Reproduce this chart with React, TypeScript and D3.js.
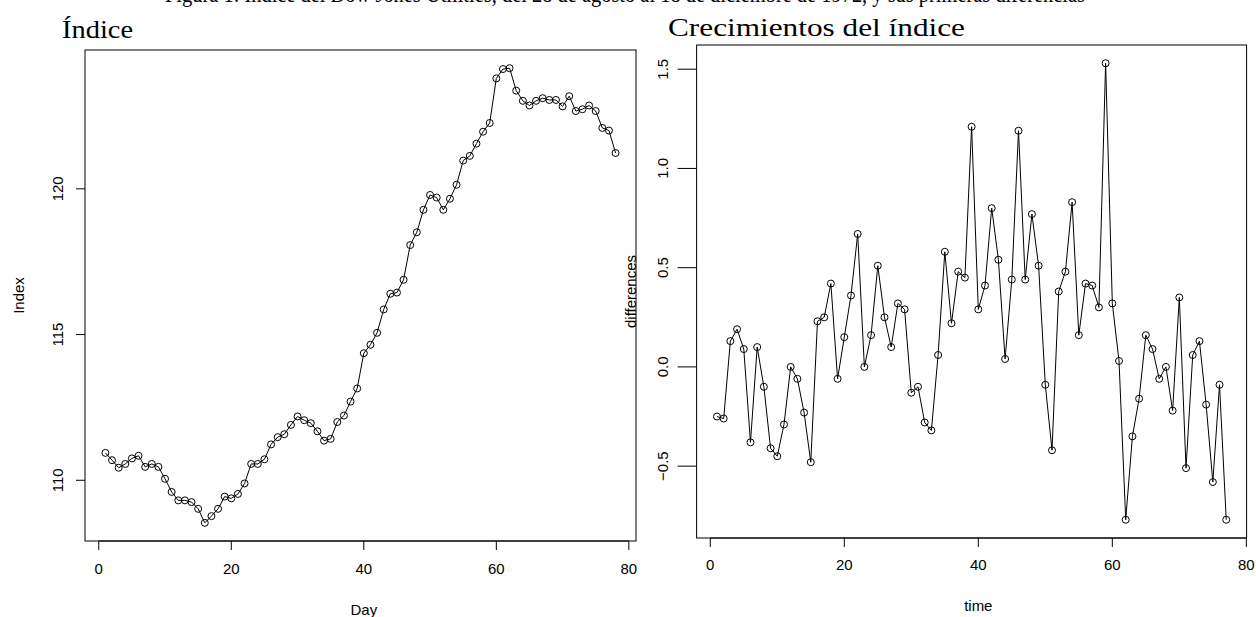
import React from "react";
import * as d3 from "d3";

// Dow Jones Utilities index, 78 trading days
const indexValues: number[] = [
  110.94, 110.69, 110.43, 110.56, 110.75, 110.84, 110.46, 110.56, 110.46, 110.05,
  109.6, 109.31, 109.31, 109.25, 109.02, 108.54, 108.77, 109.02, 109.44, 109.38,
  109.53, 109.89, 110.56, 110.56, 110.72, 111.23, 111.48, 111.58, 111.9, 112.19,
  112.06, 111.96, 111.68, 111.36, 111.42, 112.0, 112.22, 112.7, 113.15, 114.36,
  114.65, 115.06, 115.86, 116.4, 116.44, 116.88, 118.07, 118.51, 119.28, 119.79,
  119.7, 119.28, 119.66, 120.14, 120.97, 121.13, 121.55, 121.96, 122.26, 123.79,
  124.11, 124.14, 123.37, 123.02, 122.86, 123.02, 123.11, 123.05, 123.05, 122.83,
  123.18, 122.67, 122.73, 122.86, 122.67, 122.09, 122.0, 121.23,
];

// Day-to-day growth of the index (first differences)
const differences: number[] = [
  -0.25, -0.26, 0.13, 0.19, 0.09, -0.38, 0.1, -0.1, -0.41, -0.45,
  -0.29, 0.0, -0.06, -0.23, -0.48, 0.23, 0.25, 0.42, -0.06, 0.15,
  0.36, 0.67, 0.0, 0.16, 0.51, 0.25, 0.1, 0.32, 0.29, -0.13,
  -0.1, -0.28, -0.32, 0.06, 0.58, 0.22, 0.48, 0.45, 1.21, 0.29,
  0.41, 0.8, 0.54, 0.04, 0.44, 1.19, 0.44, 0.77, 0.51, -0.09,
  -0.42, 0.38, 0.48, 0.83, 0.16, 0.42, 0.41, 0.3, 1.53, 0.32,
  0.03, -0.77, -0.35, -0.16, 0.16, 0.09, -0.06, 0.0, -0.22, 0.35,
  -0.51, 0.06, 0.13, -0.19, -0.58, -0.09, -0.77,
];

const xTicks: number[] = [0, 20, 40, 60, 80];
const indexTicks: number[] = [110, 115, 120];
const diffTicks: number[] = [-0.5, 0.0, 0.5, 1.0, 1.5];

const captionText =
  "Figura 1: Índice del Dow Jones Utilities, del 28 de agosto al 18 de diciembre de 1972, y sus primeras diferencias";

const SANS = "'Liberation Sans', Arial, Helvetica, sans-serif";
const SERIF = "'Liberation Serif', 'DejaVu Serif', serif";

// R-style axis range: data extent stretched by 4% on each side
function padded(lo: number, hi: number): [number, number] {
  const r = hi - lo;
  return [lo - 0.04 * r, hi + 0.04 * r];
}

type PanelProps = {
  values: number[];
  yTicks: number[];
  yFormat: (v: number) => string;
  box: { x0: number; x1: number; y0: number; y1: number };
  xLabel: string;
  yLabel: string;
  xTickLabelY: number;
  xLabelY: number;
  yTickLabelX: number;
  yLabelX: number;
  xTickLen: number;
  yTickLen: number;
};

function Panel(p: PanelProps) {
  const n = p.values.length;
  const x = d3.scaleLinear().domain(padded(1, n)).range([p.box.x0, p.box.x1]);
  const ext = d3.extent(p.values) as [number, number];
  const y = d3.scaleLinear().domain(padded(ext[0], ext[1])).range([p.box.y1, p.box.y0]);
  const pts = p.values.map((v, i) => [i + 1, v] as [number, number]);
  const line = d3
    .line<[number, number]>()
    .x((d) => x(d[0]))
    .y((d) => y(d[1]));
  const midY = (p.box.y0 + p.box.y1) / 2;
  const midX = (x(xTicks[0]) + x(xTicks[xTicks.length - 1])) / 2;
  return (
    <g>
      <rect
        x={p.box.x0}
        y={p.box.y0}
        width={p.box.x1 - p.box.x0}
        height={p.box.y1 - p.box.y0}
        fill="none"
        stroke="#000"
        strokeWidth={1}
      />
      <path d={line(pts) || ""} fill="none" stroke="#000" strokeWidth={1} />
      {pts.map((d, i) => (
        <circle key={i} cx={x(d[0])} cy={y(d[1])} r={3.5} fill="none" stroke="#000" strokeWidth={1} />
      ))}
      {/* bottom axis */}
      <line
        x1={x(xTicks[0])}
        x2={x(xTicks[xTicks.length - 1])}
        y1={p.box.y1}
        y2={p.box.y1}
        stroke="#000"
        strokeWidth={1}
      />
      {xTicks.map((t) => (
        <g key={t}>
          <line x1={x(t)} x2={x(t)} y1={p.box.y1} y2={p.box.y1 + p.xTickLen} stroke="#000" strokeWidth={1} />
          <text
            x={x(t)}
            y={p.xTickLabelY}
            textAnchor="middle"
            dominantBaseline="central"
            fontFamily={SANS}
            fontSize={15}
          >
            {t}
          </text>
        </g>
      ))}
      <text
        x={midX}
        y={p.xLabelY}
        textAnchor="middle"
        dominantBaseline="central"
        fontFamily={SANS}
        fontSize={15}
      >
        {p.xLabel}
      </text>
      {/* left axis */}
      {p.yTicks.map((t) => (
        <g key={t}>
          <line x1={p.box.x0 - p.yTickLen} x2={p.box.x0} y1={y(t)} y2={y(t)} stroke="#000" strokeWidth={1} />
          <text
            transform={`translate(${p.yTickLabelX},${y(t)}) rotate(-90)`}
            textAnchor="middle"
            dominantBaseline="central"
            fontFamily={SANS}
            fontSize={15}
          >
            {p.yFormat(t)}
          </text>
        </g>
      ))}
      <text
        transform={`translate(${p.yLabelX},${midY}) rotate(-90)`}
        textAnchor="middle"
        dominantBaseline="central"
        fontFamily={SANS}
        fontSize={15}
      >
        {p.yLabel}
      </text>
    </g>
  );
}

export default function App() {
  const fmtInt = (v: number) => d3.format("d")(v);
  const fmtDiff = (v: number) => d3.format(".1f")(v).replace("-", "\u2212");
  return (
    <svg width={1256} height={617} style={{ position: "absolute", left: 0, top: 0, background: "#fff" }}>
      <rect x={0} y={0} width={1256} height={617} fill="#fff" />
      {/* page caption running off the top edge */}
      <text x={165} y={2} fontFamily={SERIF} fontSize={24} textLength={920} lengthAdjust="spacingAndGlyphs">
        {captionText}
      </text>
      <text x={62} y={38} fontFamily={SERIF} fontSize={26} textLength={71} lengthAdjust="spacingAndGlyphs">
        Índice
      </text>
      <text x={668} y={36} fontFamily={SERIF} fontSize={26} textLength={297} lengthAdjust="spacingAndGlyphs">
        Crecimientos del índice
      </text>
      <Panel
        values={indexValues}
        yTicks={indexTicks}
        yFormat={fmtInt}
        box={{ x0: 85, x1: 636, y0: 50, y1: 541 }}
        xLabel="Day"
        yLabel="Index"
        xTickLabelY={568}
        xLabelY={609}
        yTickLabelX={57}
        yLabelX={18}
        xTickLen={9}
        yTickLen={9}
      />
      <Panel
        values={differences}
        yTicks={diffTicks}
        yFormat={fmtDiff}
        box={{ x0: 696.6, x1: 1246.6, y0: 45, y1: 538 }}
        xLabel="time"
        yLabel="differences"
        xTickLabelY={564}
        xLabelY={605}
        yTickLabelX={662}
        yLabelX={630.5}
        xTickLen={9}
        yTickLen={19}
      />
    </svg>
  );
}
